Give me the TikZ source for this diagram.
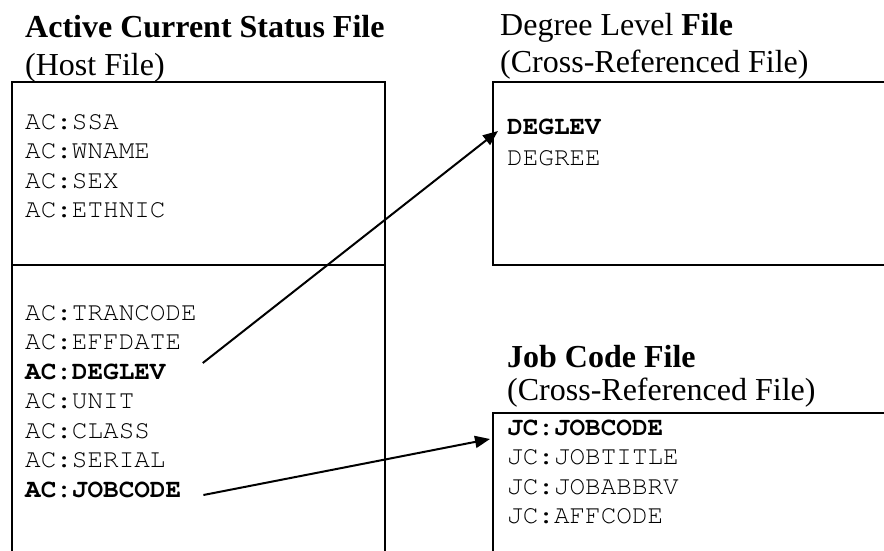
\documentclass[tikz,border=0pt]{standalone}
\usepackage{fontspec}
\setmainfont{Liberation Serif}
\setmonofont{TeX Gyre Cursor}
\usetikzlibrary{arrows.meta}

\newcommand{\titlefont}{\fontsize{32}{37}\selectfont}
\newcommand{\fieldfont}{\fontsize{26}{29.5}\selectfont\ttfamily}

\tikzset{
  filebox/.style={line width=2pt},
  heading/.style={anchor=base west, inner sep=0pt, font=\titlefont},
  field/.style={anchor=base west, inner sep=0pt, font=\fieldfont},
  keyfield/.style={field, font=\fieldfont\bfseries},
  xref/.style={line width=2pt, -{Triangle[length=15pt,width=12pt]}}
}

\begin{document}
\begin{tikzpicture}[x=1pt, y=-1pt]
                    \useasboundingbox (0,0) rectangle (884,550);
                    \clip (0,0) rectangle (884,550);

                    % host file
                    \node[heading] (acttl) at (25,37) {\textbf{Active Current Status File}};
                    \node[heading] (acsub) at (25,75) {(Host File)};
                    \draw[filebox] (11.5,600) -- (11.5,82) -- (385,82) -- (385,600);
                    \draw[filebox] (11.5,265) -- (385,265);

                    \node[field] (acssa) at (25,129) {AC:SSA};
                    \node[field] (acwname) at (25,158.5) {AC:WNAME};
                    \node[field] (acsex) at (25,188) {AC:SEX};
                    \node[field] (acethnic) at (25,217.5) {AC:ETHNIC};

                    \node[field] (actran) at (25,320) {AC:TRANCODE};
                    \node[field] (aceff) at (25,349.5) {AC:EFFDATE};
                    \node[keyfield] (acdeglev) at (25,379) {AC:DEGLEV};
                    \node[field] (acunit) at (25,408.5) {AC:UNIT};
                    \node[field] (acclass) at (25,438) {AC:CLASS};
                    \node[field] (acserial) at (25,467.5) {AC:SERIAL};
                    \node[keyfield] (acjob) at (25,497) {AC:JOBCODE};

                    % degree level file
                    \node[heading] (dlttl) at (500,35) {Degree Level \textbf{File}};
                    \node[heading] (dlsub) at (500,72) {(Cross-Referenced File)};
                    \draw[filebox] (950,82) -- (493,82) -- (493,265) -- (950,265);

                    \node[keyfield] (dldeglev) at (507,134) {DEGLEV};
                    \node[field] (dldegree) at (507,165) {DEGREE};

                    % job code file
                    \node[heading] (jcttl) at (507,367) {\textbf{Job Code File}};
                    \node[heading] (jcsub) at (507,400) {(Cross-Referenced File)};
                    \draw[filebox] (950,413) -- (493,413) -- (493,600);

                    \node[keyfield] (jcjob) at (507,435) {JC:JOBCODE};
                    \node[field] (jctitle) at (507,464.5) {JC:JOBTITLE};
                    \node[field] (jcabbr) at (507,494) {JC:JOBABBRV};
                    \node[field] (jcaff) at (507,523.5) {JC:AFFCODE};

                    % cross-reference links
                    \draw[xref] ([xshift=37pt,yshift=16pt]acdeglev.base east) -- ([xshift=-9pt,yshift=3pt]dldeglev.base west);
                    \draw[xref] ([xshift=22pt,yshift=2pt]acjob.base east) -- ([xshift=-17pt,yshift=-4pt]jcjob.base west);
\end{tikzpicture}
\end{document}
